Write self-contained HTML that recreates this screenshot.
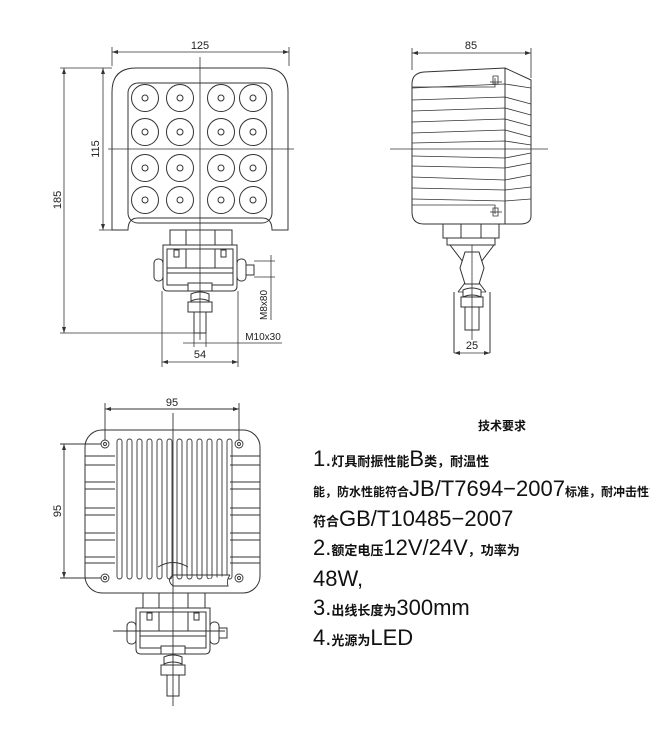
<!DOCTYPE html>
<html><head><meta charset="utf-8"><style>
body{margin:0;background:#fff;width:650px;height:731px;overflow:hidden}
svg{display:block}
.t{font-family:"Liberation Sans",sans-serif;fill:#222}
.c{font-family:"Liberation Sans","Noto Sans CJK SC",sans-serif;fill:#111}
</style></head><body>
<svg width="650" height="731" viewBox="0 0 650 731" xmlns="http://www.w3.org/2000/svg">
<defs>
<g id="br" fill="#fff" stroke="#333" stroke-width="1">
<rect x="170" y="230" width="62" height="15"/>
<line x1="186" y1="230" x2="186" y2="245"/><line x1="215" y1="230" x2="215" y2="245"/>
<path d="M163 245 H237 V286 Q237 291 232 291 H168 Q163 291 163 286 Z"/>
<path d="M167 249 H233 V285 H167 Z"/>
<line x1="167" y1="268" x2="233" y2="268"/><line x1="167" y1="273" x2="233" y2="273"/>
<line x1="186" y1="249" x2="186" y2="268"/><line x1="215" y1="249" x2="215" y2="268"/>
<rect x="174" y="250" width="5" height="7"/><rect x="221" y="250" width="5" height="7"/>
<rect x="154" y="259" width="9" height="22" rx="4"/><rect x="237" y="259" width="9" height="22" rx="4"/>
<rect x="246" y="265" width="8" height="10"/>
<rect x="188" y="283" width="24" height="8"/>
<path d="M191 294 Q200 290 209 294 L209 301 Q200 297 191 301 Z"/>
<rect x="188" y="302" width="24" height="10"/>
<rect x="194" y="312" width="12" height="21"/>
</g>
</defs>
<g stroke="#333" stroke-width="1" fill="none">
<path d="M112 92 Q112 68 136 68 H264 Q288 68 288 92 V230 H272 Q272 218 262 218 H138 Q128 218 128 230 H112 Z"/>
<rect x="128" y="83" width="144" height="140" rx="10"/>
<g>
<circle cx="145" cy="98" r="13.5"/><circle cx="180" cy="98" r="13.5"/><circle cx="221" cy="98" r="13.5"/><circle cx="253" cy="98" r="13.5"/>
<circle cx="145" cy="132" r="13.5"/><circle cx="180" cy="132" r="13.5"/><circle cx="221" cy="132" r="13.5"/><circle cx="253" cy="132" r="13.5"/>
<circle cx="145" cy="168" r="13.5"/><circle cx="180" cy="168" r="13.5"/><circle cx="221" cy="168" r="13.5"/><circle cx="253" cy="168" r="13.5"/>
<circle cx="145" cy="200" r="13.5"/><circle cx="180" cy="200" r="13.5"/><circle cx="221" cy="200" r="13.5"/><circle cx="253" cy="200" r="13.5"/>
<circle cx="145" cy="98" r="3"/><circle cx="180" cy="98" r="3"/><circle cx="221" cy="98" r="3"/><circle cx="253" cy="98" r="3"/>
<circle cx="145" cy="132" r="3"/><circle cx="180" cy="132" r="3"/><circle cx="221" cy="132" r="3"/><circle cx="253" cy="132" r="3"/>
<circle cx="145" cy="168" r="3"/><circle cx="180" cy="168" r="3"/><circle cx="221" cy="168" r="3"/><circle cx="253" cy="168" r="3"/>
<circle cx="145" cy="200" r="3"/><circle cx="180" cy="200" r="3"/><circle cx="221" cy="200" r="3"/><circle cx="253" cy="200" r="3"/>
</g>
</g>
<use href="#br"/>
<g stroke="#333" stroke-width="0.8" fill="none">
<line x1="200" y1="57" x2="200" y2="340"/><line x1="108" y1="149" x2="294" y2="149"/>
<line x1="112" y1="66" x2="112" y2="47"/><line x1="289" y1="66" x2="289" y2="47"/><line x1="112" y1="52" x2="289" y2="52"/>
<line x1="60" y1="68" x2="112" y2="68"/><line x1="60" y1="333" x2="194" y2="333"/><line x1="64" y1="68" x2="64" y2="333"/>
<line x1="99" y1="230" x2="128" y2="230"/><line x1="103" y1="68" x2="103" y2="230"/>
<line x1="254" y1="261" x2="275" y2="261"/><line x1="254" y1="277" x2="275" y2="277"/><line x1="271" y1="255" x2="271" y2="320"/>
<line x1="183" y1="343" x2="282" y2="343"/><line x1="194" y1="333" x2="194" y2="347"/><line x1="206" y1="333" x2="206" y2="347"/>
<line x1="162" y1="291" x2="162" y2="367"/><line x1="238" y1="291" x2="238" y2="367"/><line x1="162" y1="362" x2="238" y2="362"/>
</g>
<g fill="#333">
<path d="M112 52 l6 -2 v4z M289 52 l-6 -2 v4z M64 68 l-2 6 h4z M64 333 l-2 -6 h4z M103 68 l-2 6 h4z M103 230 l-2 -6 h4z M162 362 l6 -2 v4z M238 362 l-6 -2 v4z"/>
</g>
<text class="t" x="200" y="49" font-size="11" text-anchor="middle">125</text>
<text class="t" font-size="11" text-anchor="middle" transform="translate(61 200) rotate(-90)">185</text>
<text class="t" font-size="11" text-anchor="middle" transform="translate(99 149) rotate(-90)">115</text>
<text class="t" font-size="10" text-anchor="middle" transform="translate(267 305) rotate(-90)">M8x80</text>
<text class="t" font-size="10" x="263" y="340" text-anchor="middle">M10x30</text>
<text class="t" font-size="11" x="200" y="358" text-anchor="middle">54</text>

<g stroke="#333" stroke-width="1" fill="#fff">
<path d="M412 84 Q412 73 424 72 L505 68 L531 80 V216 Q531 224 520 224 H424 Q412 224 412 212 Z"/>
<line x1="505" y1="68" x2="505" y2="224"/>
<rect x="443" y="224" width="56" height="14"/>
<line x1="461" y1="224" x2="461" y2="238"/><line x1="481" y1="224" x2="481" y2="238"/>
<path d="M447 238 H495 V245 H447 Z"/>
<path d="M450 245 L486 292 M494 245 L458 292"/>
<line x1="454" y1="292" x2="454" y2="353"/><line x1="490" y1="292" x2="490" y2="353"/>
<line x1="458" y1="292" x2="486" y2="292" stroke-width="0.7"/>
<path d="M465 252 L479 252 L484 268 L479 284 L465 284 L460 268 Z"/>
<path d="M463 290 Q472 286 481 290 L481 297 Q472 293 463 297 Z"/>
<rect x="461" y="297" width="22" height="10"/>
<rect x="465" y="307" width="14" height="23"/>
<path d="M493 76 v8 h5 v-8 z M493 208 v8 h5 v-8 z" stroke-width="0.8"/>
</g>
<g stroke="#333" stroke-width="0.8" fill="none">
<path d="M412 88 L505 84 L531 88 M412 100 L505 97 L531 104 M412 111 L505 108 L531 115 M412 122 L505 119 L531 126 M412 133 L505 130 L531 137 M412 143 L505 141 L531 145 M412 156 L505 158 L531 153 M412 166 L505 168 L531 163 M412 177 L505 180 L531 175 M412 188 L505 190 L531 187 M412 199 L505 201 L531 199"/>
<path d="M412 87 H495 V78 M412 205 H495 V214"/>
<line x1="490" y1="82" x2="502" y2="82"/><line x1="490" y1="212" x2="502" y2="212"/>
<line x1="390" y1="149" x2="548" y2="149"/><line x1="472" y1="245" x2="472" y2="340"/>
<line x1="412" y1="70" x2="412" y2="48"/><line x1="531" y1="78" x2="531" y2="48"/><line x1="412" y1="53" x2="531" y2="53"/>
<line x1="454" y1="353" x2="490" y2="353"/>
</g>
<path fill="#333" d="M412 53 l6 -2 v4z M531 53 l-6 -2 v4z M454 353 l6 -2 v4z M490 353 l-6 -2 v4z"/>
<text class="t" x="471" y="49" font-size="11" text-anchor="middle">85</text>
<text class="t" x="472" y="349" font-size="11" text-anchor="middle">25</text>

<g stroke="#333" stroke-width="1" fill="#fff">
<rect x="85" y="430" width="175" height="163" rx="17"/>
</g>
<use href="#br" transform="translate(-27 363)"/>
<g stroke="#333" stroke-width="0.9" fill="none">
<rect x="117" y="439" width="5" height="140" rx="2.5"/><rect x="127" y="439" width="5" height="140" rx="2.5"/>
<rect x="137" y="439" width="5" height="140" rx="2.5"/><rect x="147" y="439" width="5" height="140" rx="2.5"/>
<rect x="157" y="439" width="5" height="140" rx="2.5"/><rect x="167" y="439" width="5" height="140" rx="2.5"/>
<rect x="177" y="439" width="5" height="140" rx="2.5"/><rect x="187" y="439" width="5" height="140" rx="2.5"/>
<rect x="197" y="439" width="5" height="140" rx="2.5"/><rect x="207" y="439" width="5" height="140" rx="2.5"/>
<rect x="217" y="439" width="5" height="140" rx="2.5"/><rect x="227" y="439" width="5" height="140" rx="2.5"/>
<path d="M85 456 H115 M85 465 H115 M85 482 H115 M85 489 H115 M85 508 H115 M85 515 H115 M85 533 H115 M85 540 H115 M85 557 H115 M85 563 H115"/>
<path d="M230 456 H260 M230 465 H260 M230 482 H260 M230 489 H260 M230 508 H260 M230 515 H260 M230 533 H260 M230 540 H260 M230 557 H260 M230 563 H260"/>
<path d="M158 567 Q173 558 188 567"/>
<path d="M173 575 H230 M173 586 H228 Q226 580 230 575" fill="#fff"/>
<path d="M173 575 Q166 580 173 586"/>
<circle cx="105" cy="444" r="4"/><circle cx="239" cy="444" r="4"/><circle cx="105" cy="578" r="4"/><circle cx="239" cy="578" r="4"/>
<circle cx="105" cy="444" r="1.5"/><circle cx="239" cy="444" r="1.5"/><circle cx="105" cy="578" r="1.5"/><circle cx="239" cy="578" r="1.5"/>
<line x1="173" y1="413" x2="173" y2="706"/><line x1="113" y1="631" x2="225" y2="631"/>
<line x1="105" y1="440" x2="105" y2="403"/><line x1="239" y1="440" x2="239" y2="403"/><line x1="105" y1="409" x2="239" y2="409"/>
<line x1="60" y1="444" x2="101" y2="444"/><line x1="60" y1="578" x2="101" y2="578"/><line x1="64" y1="444" x2="64" y2="578"/>
</g>
<path fill="#333" d="M105 409 l6 -2 v4z M239 409 l-6 -2 v4z M64 444 l-2 6 h4z M64 578 l-2 -6 h4z"/>
<text class="t" x="172" y="406" font-size="11" text-anchor="middle">95</text>
<text class="t" font-size="11" text-anchor="middle" transform="translate(61 511) rotate(-90)">95</text>

<g class="c">
<text x="478" y="430" font-size="12" font-weight="bold">技术要求</text>
<text x="313" y="466" font-size="22" font-weight="300">1.<tspan font-size="13" font-weight="bold">灯具耐振性能</tspan>B<tspan font-size="13" font-weight="bold">类，耐温性</tspan></text>
<text x="313" y="496" font-size="22"><tspan font-size="12" font-weight="bold">能，防水性能符合</tspan>JB/T7694−2007<tspan font-size="12" font-weight="bold">标准，耐冲击性能</tspan></text>
<text x="313" y="526" font-size="22"><tspan font-size="13" font-weight="bold">符合</tspan>GB/T10485−2007</text>
<text x="313" y="555" font-size="22">2.<tspan font-size="13" font-weight="bold">额定电压</tspan>12V/24V<tspan font-size="13" font-weight="bold">，功率为</tspan></text>
<text x="313" y="586" font-size="22">48W,</text>
<text x="313" y="615" font-size="22">3.<tspan font-size="13" font-weight="bold">出线长度为</tspan>300mm</text>
<text x="313" y="645" font-size="22">4.<tspan font-size="13" font-weight="bold">光源为</tspan>LED</text>
</g>
</svg>
</body></html>
